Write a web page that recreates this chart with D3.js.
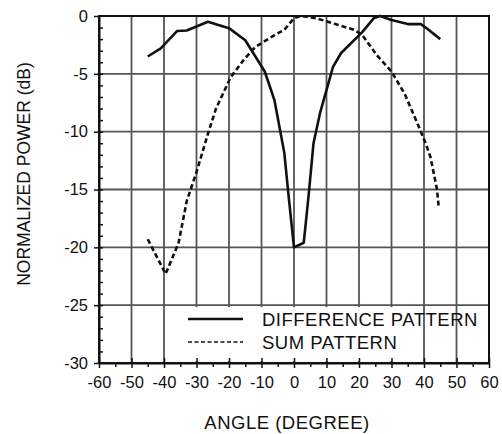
<!DOCTYPE html>
<html>
<head>
<meta charset="utf-8">
<script src="https://cdn.jsdelivr.net/npm/d3@7"></script>
<style>
  body { margin: 0; background: #fff; }
  text { font-family: "Liberation Sans", Arial, sans-serif; fill: #111; }
</style>
</head>
<body>
<div id="chart"></div>
<script>
// Data (angle in degree, power in dB)
var diffAngle = [-45, -41, -36, -33, -26.5, -20, -15, -9, -6, -3, -1.5, 0, 3, 4.5, 6, 8, 12, 14.5, 21, 24.5, 26.5, 30, 35, 39, 41, 45];
var diffPower = [-3.5, -2.8, -1.3, -1.25, -0.5, -1.05, -2.1, -4.8, -7.3, -11.8, -16, -20, -19.6, -15.5, -11, -8.4, -4.4, -3.2, -1.4, -0.2, 0, -0.35, -0.7, -0.7, -1.1, -2.0];
var sumAngle = [-45, -39.5, -35.5, -33, -30, -26.5, -24, -19.5, -15.5, -12, -6, -3, 0, 2, 7, 18.5, 21, 25.5, 30, 34, 38, 40.5, 42, 44, 44.5];
var sumPower = [-19.3, -22.3, -19.6, -16, -13.5, -10.2, -8, -5.3, -3.8, -2.7, -1.65, -1.2, -0.2, 0, -0.2, -1.2, -1.65, -3.4, -4.8, -6.7, -9.3, -11, -12.2, -15, -16.4];
var xTicks = [-60, -50, -40, -30, -20, -10, 0, 10, 20, 30, 40, 50, 60];
var yTicks = [0, -5, -10, -15, -20, -25, -30];
var legendLabels = ["DIFFERENCE PATTERN", "SUM PATTERN"];

var w = 502, h = 434;
var margin = {top: 16, right: 13, bottom: 71, left: 99};
var width = w - margin.left - margin.right;
var height = h - margin.top - margin.bottom;

var svg = d3.select("#chart")
  .append("svg")
    .attr("width", w)
    .attr("height", h)
  .append("g")
    .attr("transform", "translate(" + margin.left + "," + margin.top + ")");

var x = d3.scaleLinear().domain([-60, 60]).range([0, width]);
var y = d3.scaleLinear().domain([-30, 0]).range([height, 0]);

// plain hyphen like the original print
var fmt = function(d) { return String(d); };

// grid
svg.append("g")
  .selectAll("line")
  .data(xTicks.slice(1, -1))
  .enter()
  .append("line")
    .attr("x1", function(d) { return x(d); })
    .attr("x2", function(d) { return x(d); })
    .attr("y1", 0)
    .attr("y2", height)
    .attr("stroke", "#555")
    .attr("stroke-width", 1.8);
svg.append("g")
  .selectAll("line")
  .data(yTicks.slice(1, -1))
  .enter()
  .append("line")
    .attr("x1", 0)
    .attr("x2", width)
    .attr("y1", function(d) { return y(d); })
    .attr("y2", function(d) { return y(d); })
    .attr("stroke", "#555")
    .attr("stroke-width", 1.8);

// white area behind the legend
svg.append("rect")
  .attr("x", x(-35))
  .attr("y", y(-25) + 2)
  .attr("width", x(35) - x(-35))
  .attr("height", y(-30) - y(-25) - 4)
  .attr("fill", "#fff");

// curves
var line = d3.line()
  .x(function(d) { return x(d[0]); })
  .y(function(d) { return y(d[1]); });

svg.append("path")
  .datum(d3.zip(diffAngle, diffPower))
  .attr("d", line)
  .attr("fill", "none")
  .attr("stroke", "#111")
  .attr("stroke-width", 2.6)
  .attr("stroke-linejoin", "round");

svg.append("path")
  .datum(d3.zip(sumAngle, sumPower))
  .attr("d", line)
  .attr("fill", "none")
  .attr("stroke", "#111")
  .attr("stroke-width", 2.6)
  .attr("stroke-dasharray", "5,3");

// frame
svg.append("rect")
  .attr("width", width)
  .attr("height", height)
  .attr("fill", "none")
  .attr("stroke", "#111")
  .attr("stroke-width", 2);

// X axis, major + minor ticks
svg.append("g")
  .attr("transform", "translate(0," + height + ")")
  .call(d3.axisBottom(x).tickValues(d3.range(-55, 60, 10)).tickSize(4).tickFormat(""))
  .call(function(g) { g.select(".domain").remove(); })
  .selectAll("line").attr("stroke", "#111").attr("stroke-width", 1.5);
svg.append("g")
  .attr("transform", "translate(0," + height + ")")
  .call(d3.axisBottom(x).tickValues(xTicks).tickFormat(fmt).tickSizeInner(5).tickSizeOuter(0).tickPadding(8))
  .call(function(g) { g.select(".domain").attr("stroke", "#111").attr("stroke-width", 2); })
  .call(function(g) { g.selectAll(".tick line").attr("y1", -5).attr("stroke", "#111").attr("stroke-width", 1.5); })
  .selectAll("text")
    .attr("font-size", "16.5px")
    .attr("fill", "#111");

// Y axis, major + minor ticks
svg.append("g")
  .call(d3.axisRight(y).tickValues(d3.range(-29, 0, 1)).tickSize(4).tickFormat(""))
  .call(function(g) { g.select(".domain").remove(); })
  .selectAll("line").attr("stroke", "#111").attr("stroke-width", 1.5);
svg.append("g")
  .call(d3.axisLeft(y).tickValues(yTicks).tickFormat(fmt).tickSizeInner(5).tickSizeOuter(0).tickPadding(6))
  .call(function(g) { g.select(".domain").attr("stroke", "#111").attr("stroke-width", 2); })
  .call(function(g) { g.selectAll(".tick line").attr("stroke", "#111").attr("stroke-width", 1.5); })
  .selectAll("text")
    .attr("font-size", "16.5px")
    .attr("fill", "#111");

// Legend
var legend = svg.append("g")
  .attr("transform", "translate(" + (188 - margin.left) + "," + (319 - margin.top) + ")");
legend.selectAll("line")
  .data(legendLabels)
  .enter()
  .append("line")
    .attr("x1", 0)
    .attr("x2", 55)
    .attr("y1", function(d, i) { return i * 23; })
    .attr("y2", function(d, i) { return i * 23; })
    .attr("stroke", "#111")
    .attr("stroke-width", function(d, i) { return i == 0 ? 2.6 : 1.6; })
    .attr("stroke-dasharray", function(d, i) { return i == 0 ? null : "4,2.5"; });
legend.selectAll("text")
  .data(legendLabels)
  .enter()
  .append("text")
    .attr("x", 74)
    .attr("y", function(d, i) { return i * 23 + 7; })
    .attr("font-size", "18.5px")
    .attr("letter-spacing", "0.5px")
    .text(function(d) { return d; });

// axis titles
svg.append("text")
  .attr("text-anchor", "middle")
  .attr("x", 287 - margin.left)
  .attr("y", 429 - margin.top)
  .attr("font-size", "18.5px")
  .attr("letter-spacing", "0.5px")
  .text("ANGLE (DEGREE)");

svg.append("text")
  .attr("text-anchor", "middle")
  .attr("transform", "rotate(-90)")
  .attr("x", -(174 - margin.top))
  .attr("y", 30 - margin.left)
  .attr("font-size", "17.5px")
  .text("NORMALIZED POWER (dB)");
</script>
</body>
</html>
